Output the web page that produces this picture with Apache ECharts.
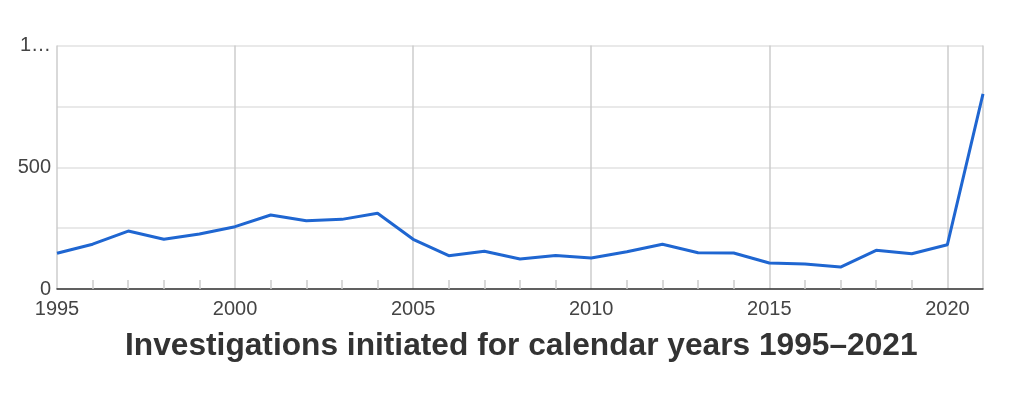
<!DOCTYPE html>
<html><head><meta charset="utf-8">
<script src="https://cdn.jsdelivr.net/npm/echarts@6/dist/echarts.min.js"></script>
<style>html,body{margin:0;padding:0;background:#fff}#c{width:1024px;height:409px}</style>
</head><body><div id="c"></div>
<script>
const years = [1995,1996,1997,1998,1999,2000,2001,2002,2003,2004,2005,2006,2007,2008,2009,2010,2011,2012,2013,2014,2015,2016,2017,2018,2019,2020,2021];
const investigations = [147,184,238,204,226,256,304,280,286,311,204,137,155,123,138,127,153,184,149,148,107,103,90,159,145,182,801];
const titleText = 'Investigations initiated for calendar years 1995–2021';

const chart = echarts.init(document.getElementById('c'), null, {renderer:'canvas'});
chart.setOption({
  animation:false,
  title:{text:titleText,left:120,top:325,textStyle:{fontFamily:'Liberation Sans, Arial, sans-serif',fontSize:31.7,fontWeight:'bold',color:'#333'}},
  grid:{left:57,right:41,top:45.5,bottom:120,containLabel:false},
  xAxis:{type:'value',min:1995,max:2021,interval:5,
    axisLine:{show:true,lineStyle:{color:'#333',width:1.5}},
    axisTick:{show:false,inside:true},
    minorTick:{show:true,splitNumber:5,length:9,lineStyle:{color:'#ccc',width:1.5}},
    splitLine:{show:true,lineStyle:{color:'#cccccc',width:1.5}},
    axisLabel:{color:'#444',fontSize:20,fontFamily:'Liberation Sans, Arial, sans-serif',margin:10,showMaxLabel:false,
      formatter:v=>v===2021?'':String(v)}
  },
  yAxis:{type:'value',min:0,max:1000,interval:250,
    axisLine:{show:false},axisTick:{show:false},
    splitLine:{show:true,lineStyle:{color:'#e2e2e2',width:1.5}},
    axisLabel:{color:'#444',fontSize:20,fontFamily:'Liberation Sans, Arial, sans-serif',margin:6,
      formatter:v=>v===0?'0':v===500?'500':v===1000?'1…':''}
  },
  series:[{type:'line',data:years.map((y,i)=>[y,investigations[i]]),showSymbol:false,
    lineStyle:{color:'#1f66d1',width:3},itemStyle:{color:'#1f66d1'}}]
});
</script></body></html>
